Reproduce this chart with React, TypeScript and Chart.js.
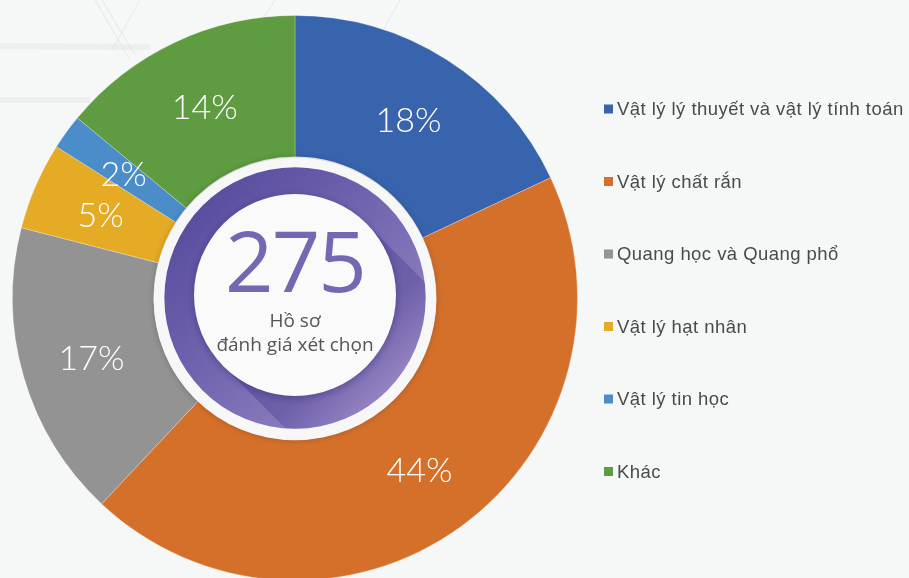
import React, { useEffect, useRef } from 'react';
import { Chart, registerables } from 'chart.js';

Chart.register(...registerables);

const categories = [
  'Vật lý lý thuyết và vật lý tính toán',
  'Vật lý chất rắn',
  'Quang học và Quang phổ',
  'Vật lý hạt nhân',
  'Vật lý tin học',
  'Khác',
];
const percentages = [18, 44, 17, 5, 2, 14];
const sliceColors = ['#3864ad', '#d5702b', '#939393', '#e5ab25', '#4b8dc8', '#5f9b40'];
const totalCount = '275';
const centerLines = ['Hồ sơ', 'đánh giá xét chọn'];

const VIEW_W = 909;
const VIEW_H = 578;
const CANVAS_H = 600;

const backdropPlugin = {
  id: 'backdrop',
  beforeDraw(chart: any) {
    const ctx: CanvasRenderingContext2D = chart.ctx;
    ctx.save();
    ctx.strokeStyle = 'rgba(220,222,225,0.35)';
    ctx.lineWidth = 6;
    ctx.beginPath();
    ctx.moveTo(0, 46);
    ctx.lineTo(150, 47);
    ctx.moveTo(0, 100);
    ctx.lineTo(90, 100);
    ctx.stroke();
    ctx.lineWidth = 1.2;
    ctx.strokeStyle = 'rgba(215,217,220,0.4)';
    ctx.beginPath();
    ctx.moveTo(95, 0);
    ctx.lineTo(130, 60);
    ctx.moveTo(102, 0);
    ctx.lineTo(135, 55);
    ctx.moveTo(140, 0);
    ctx.lineTo(112, 50);
    ctx.moveTo(275, 0);
    ctx.lineTo(262, 20);
    ctx.moveTo(400, 0);
    ctx.lineTo(375, 45);
    ctx.stroke();
    ctx.restore();
  },
};

const centerBadgePlugin = {
  id: 'centerBadge',
  afterDatasetsDraw(chart: any) {
    const meta = chart.getDatasetMeta(0);
    if (!meta.data.length) return;
    const arc: any = meta.data[0];
    const x = arc.x;
    const y = arc.y;
    const inner = arc.innerRadius;
    const rW = inner * 1.0;
    const rP = inner * 0.925;
    const rI = inner * 0.715;
    const ctx: CanvasRenderingContext2D = chart.ctx;
    ctx.save();

    ctx.shadowColor = 'rgba(0,0,0,0.22)';
    ctx.shadowBlur = 6;
    ctx.beginPath();
    ctx.arc(x, y + 1, rW, 0, Math.PI * 2);
    ctx.fillStyle = '#f7f7f8';
    ctx.fill();
    ctx.shadowColor = 'transparent';
    ctx.shadowBlur = 0;

    const g = ctx.createLinearGradient(x - rP, y - rP, x + rP, y + rP);
    g.addColorStop(0, '#4f4398');
    g.addColorStop(0.45, '#7064af');
    g.addColorStop(1, '#a38fc8');
    ctx.beginPath();
    ctx.arc(x, y, rP, 0, Math.PI * 2);
    ctx.fillStyle = g;
    ctx.fill();

    ctx.save();
    ctx.beginPath();
    ctx.arc(x, y, rP, 0, Math.PI * 2);
    ctx.clip();
    const s = rI / Math.SQRT2;
    const L = rP * 2;
    ctx.beginPath();
    ctx.moveTo(x + s, y - s - 3);
    ctx.lineTo(x + s + L, y - s + L - 3);
    ctx.lineTo(x - s + L, y + s + L - 3);
    ctx.lineTo(x - s, y + s - 3);
    ctx.closePath();
    const sg = ctx.createLinearGradient(x, y, x + rP / Math.SQRT2, y + rP / Math.SQRT2);
    sg.addColorStop(0.55, 'rgba(55,40,135,0.3)');
    sg.addColorStop(1, 'rgba(55,40,135,0)');
    ctx.fillStyle = sg;
    ctx.fill();
    ctx.restore();

    ctx.shadowColor = 'rgba(30,15,80,0.35)';
    ctx.shadowBlur = 8;
    ctx.shadowOffsetY = 2;
    ctx.beginPath();
    ctx.arc(x, y - 3, rI, 0, Math.PI * 2);
    ctx.fillStyle = '#fafafa';
    ctx.fill();
    ctx.shadowColor = 'transparent';
    ctx.shadowBlur = 0;
    ctx.shadowOffsetY = 0;

    ctx.textAlign = 'center';
    ctx.textBaseline = 'alphabetic';
    ctx.fillStyle = '#7667b3';
    ctx.font = '400 85px "Open Sans"';
    (ctx as any).letterSpacing = '-2px';
    ctx.fillText(totalCount, x, y - 6);
    (ctx as any).letterSpacing = '0px';
    ctx.fillStyle = '#555555';
    ctx.font = '400 19px "Open Sans"';
    ctx.fillText(centerLines[0], x, y + 29);
    ctx.fillText(centerLines[1], x, y + 53);
    ctx.restore();
  },
};

const sliceLabelPlugin = {
  id: 'sliceLabels',
  afterDatasetsDraw(chart: any) {
    const meta = chart.getDatasetMeta(0);
    const ctx: CanvasRenderingContext2D = chart.ctx;
    ctx.save();
    ctx.fillStyle = '#ffffff';
    ctx.font = '300 34px Lato';
    ctx.textAlign = 'center';
    ctx.textBaseline = 'middle';
    meta.data.forEach((arc: any, i: number) => {
      const mid = (arc.startAngle + arc.endAngle) / 2;
      const r = (arc.innerRadius + arc.outerRadius) / 2;
      const px = arc.x + Math.cos(mid) * r;
      const py = arc.y + Math.sin(mid) * r + 2;
      ctx.fillText(percentages[i] + '%', px, py);
    });
    ctx.restore();
  },
};

const sideLegendPlugin = {
  id: 'sideLegend',
  afterDraw(chart: any) {
    const ctx: CanvasRenderingContext2D = chart.ctx;
    const labels: string[] = chart.data.labels;
    const cols: string[] = chart.data.datasets[0].backgroundColor;
    const x0 = 604;
    const y0 = 109;
    const step = 72.5;
    ctx.save();
    ctx.font = '400 18.5px "Liberation Sans"';
    (ctx as any).letterSpacing = '0.45px';
    ctx.textBaseline = 'middle';
    ctx.textAlign = 'left';
    labels.forEach((lab, i) => {
      const cy = y0 + i * step;
      ctx.fillStyle = cols[i];
      ctx.fillRect(x0, cy - 4.5, 9, 9);
      ctx.fillStyle = '#4a4a4a';
      ctx.fillText(lab, x0 + 13, cy + 1);
    });
    ctx.restore();
  },
};

export default function App() {
  const ref = useRef<HTMLCanvasElement | null>(null);
  useEffect(() => {
    if (!ref.current) return;
    const chart = new Chart(ref.current, {
      type: 'doughnut',
      data: {
        labels: categories,
        datasets: [
          {
            data: percentages,
            backgroundColor: sliceColors,
            borderColor: 'rgba(255,255,255,0.25)',
            borderWidth: 1,
            hoverOffset: 0,
          },
        ],
      },
      options: {
        responsive: false,
        animation: false,
        devicePixelRatio: 1,
        events: [],
        cutout: '50%',
        layout: { padding: { left: 12, top: 15, right: 331, bottom: 19 } },
        plugins: {
          legend: { display: false },
          tooltip: { enabled: false },
        },
      },
      plugins: [backdropPlugin, sliceLabelPlugin, centerBadgePlugin, sideLegendPlugin],
    });
    return () => chart.destroy();
  }, []);

  return (
    <div
      style={{
        position: 'fixed',
        left: 0,
        top: 0,
        width: VIEW_W,
        height: VIEW_H,
        overflow: 'hidden',
        background: '#f6f7f7',
      }}
    >
      <canvas ref={ref} width={VIEW_W} height={CANVAS_H} style={{ display: 'block' }} />
    </div>
  );
}
